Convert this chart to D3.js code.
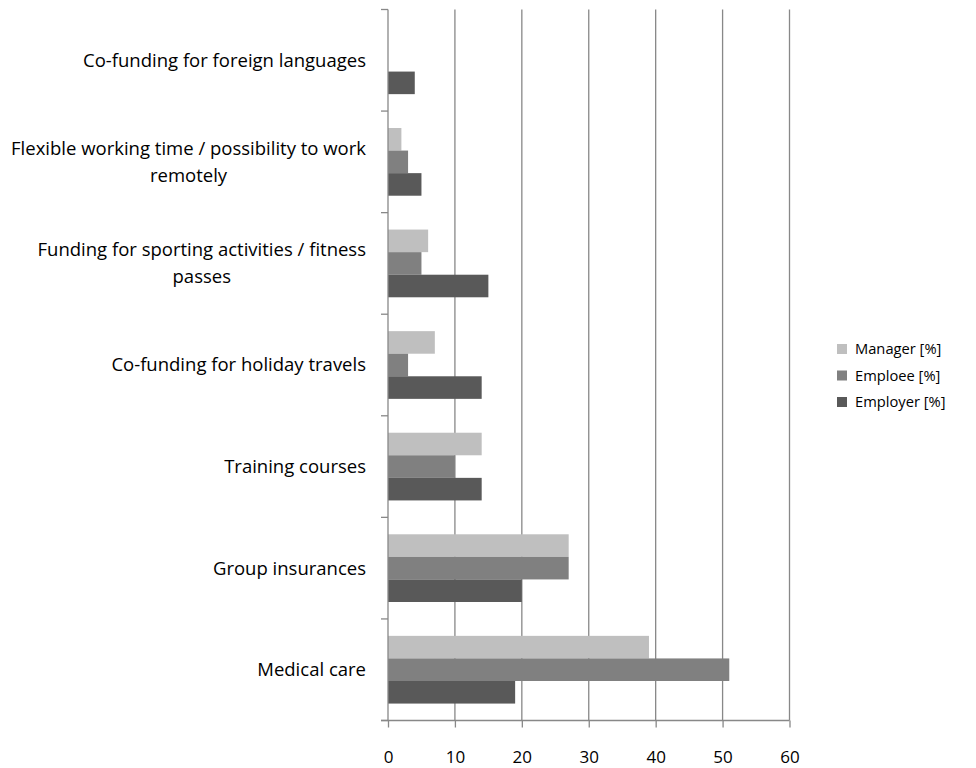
<!DOCTYPE html>
<html>
<head>
<meta charset="utf-8">
<script src="https://cdn.jsdelivr.net/npm/d3@7"></script>
<style>
  html, body { margin: 0; padding: 0; background: #fff; }
  svg { display: block; font-family: "Open Sans", sans-serif; }
</style>
</head>
<body>
<svg id="chart" width="976" height="768"></svg>
<script>
// Benefit categories, top to bottom
const categories = [
  "Co-funding for foreign languages",
  "Flexible working time / possibility to work remotely",
  "Funding for sporting activities / fitness passes",
  "Co-funding for holiday travels",
  "Training courses",
  "Group insurances",
  "Medical care"
];
// Wrapped label lines per category
const labelLines = [
  ["Co-funding for foreign languages"],
  ["Flexible working time / possibility to work", "remotely"],
  ["Funding for sporting activities / fitness", "passes"],
  ["Co-funding for holiday travels"],
  ["Training courses"],
  ["Group insurances"],
  ["Medical care"]
];
const seriesNames = ["Manager [%]", "Emploee [%]", "Employer [%]"];
const managerValues  = [0, 2, 6, 7, 14, 27, 39];
const emploeeValues  = [0, 3, 5, 3, 10, 27, 51];
const employerValues = [4, 5, 15, 14, 14, 20, 19];
const xTicks = [0, 10, 20, 30, 40, 50, 60];
const colors = ["#bfbfbf", "#808080", "#595959"];

const series = [managerValues, emploeeValues, employerValues];

const svg = d3.select("#chart");
const plot = { left: 388, right: 789.5, top: 9.5, bottom: 720.5 };

const x = d3.scaleLinear().domain([0, 60]).range([plot.left, plot.right]);
const y = d3.scaleBand().domain(categories).range([plot.top, plot.bottom])
  .paddingInner(1.5 / 4.5).paddingOuter(0.75 / 4.5);
const inner = d3.scaleBand().domain(seriesNames).range([0, y.bandwidth()]);

// Vertical gridlines
svg.append("g").selectAll("line")
  .data(xTicks.slice(1))
  .join("line")
  .attr("x1", d => x(d)).attr("x2", d => x(d))
  .attr("y1", plot.top).attr("y2", plot.bottom)
  .attr("stroke", "#888").attr("stroke-width", 1.3);

// Bars
const groups = svg.append("g").selectAll("g")
  .data(categories)
  .join("g")
  .attr("transform", d => `translate(0,${y(d)})`);
groups.selectAll("rect")
  .data((d, i) => seriesNames.map((s, j) => ({ s, j, v: series[j][i] })))
  .join("rect")
  .attr("x", x(0))
  .attr("y", d => inner(d.s))
  .attr("width", d => x(d.v) - x(0))
  .attr("height", inner.bandwidth())
  .attr("fill", d => colors[d.j]);

// Category axis with tick marks at band edges
const edgeY = d3.scaleLinear().domain([0, categories.length]).range([plot.top, plot.bottom]);
const axisG = svg.append("g");
axisG.append("line")
  .attr("x1", plot.left).attr("x2", plot.left)
  .attr("y1", plot.top).attr("y2", plot.bottom)
  .attr("stroke", "#888").attr("stroke-width", 1.3);
axisG.selectAll("line.tk")
  .data(d3.range(categories.length + 1))
  .join("line").attr("class", "tk")
  .attr("x1", plot.left - 7).attr("x2", plot.left)
  .attr("y1", d => edgeY(d)).attr("y2", d => edgeY(d))
  .attr("stroke", "#888").attr("stroke-width", 1.3);

// Value axis
const xAxis = d3.axisBottom(x).tickValues(xTicks).tickSize(7).tickPadding(23);
const xg = svg.append("g").attr("transform", `translate(0,${plot.bottom})`).call(xAxis);
xg.select(".domain").attr("stroke", "#888").attr("stroke-width", 1.3)
  .attr("d", `M${plot.left - 7},0H${plot.right}`);
xg.selectAll(".tick line").attr("stroke", "#888").attr("stroke-width", 1.3);
xg.selectAll(".tick text").attr("font-size", 17).attr("fill", "#000")
  .attr("font-family", "'Open Sans', sans-serif");

// Category labels, right-aligned block with centred lines
const labelRight = 366;
const lineH = 27;
const lg = svg.append("g").attr("font-size", 18.5).attr("fill", "#000");
categories.forEach((c, i) => {
  const lines = labelLines[i];
  const cy = y(c) + y.bandwidth() / 2;
  const t = lg.append("text").attr("text-anchor", "middle");
  const tspans = lines.map((ln, k) => t.append("tspan")
    .attr("x", 0)
    .attr("y", cy + (k - (lines.length - 1) / 2) * lineH)
    .attr("dy", "0.35em")
    .text(ln));
  const maxW = d3.max(tspans, s => s.node().getComputedTextLength());
  tspans.forEach(s => s.attr("x", labelRight - maxW / 2));
});

// Legend
const legend = svg.append("g").attr("font-size", 14.7);
seriesNames.forEach((s, i) => {
  const ly = 349 + i * 26.5;
  legend.append("rect").attr("x", 837).attr("y", ly - 5).attr("width", 10).attr("height", 10)
    .attr("fill", colors[i]);
  legend.append("text").attr("x", 855).attr("y", ly).attr("dy", "0.35em").text(s);
});
</script>
</body>
</html>
